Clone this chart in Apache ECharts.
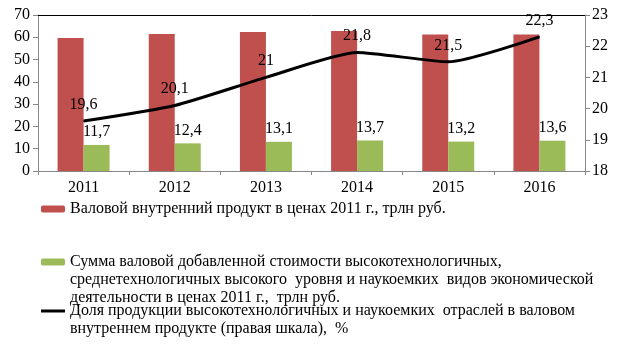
<!DOCTYPE html>
<html><head><meta charset="utf-8">
<script src="https://cdn.jsdelivr.net/npm/echarts@6/dist/echarts.min.js"></script>
<style>html,body{margin:0;padding:0;background:#fff}#c{width:624px;height:360px}</style>
</head><body><div id="c"></div>
<script>
const categories = ['2011','2012','2013','2014','2015','2016'];
const gdp = [59.7, 61.5, 62.4, 62.8, 61.2, 61.3];
const hightech = [11.7, 12.4, 13.1, 13.7, 13.2, 13.6];
const share = [19.6, 20.1, 21.0, 21.8, 21.5, 22.3];
const leftTicks = {min: 0, max: 70, interval: 10};
const rightTicks = {min: 18, max: 23, interval: 1};
const names = [
  'Валовой внутренний продукт в ценах 2011 г., трлн руб.',
  'Сумма валовой добавленной стоимости высокотехнологичных,\nсреднетехнологичных высокого  уровня и наукоемких  видов экономической\nдеятельности в ценах 2011 г.,  трлн руб.',
  'Доля продукции высокотехнологичных и наукоемких  отраслей в валовом\nвнутреннем продукте (правая шкала),  %'
];
const font = '"Liberation Serif", "Times New Roman", serif';
const FS = 16;
const fmt = p => String(p.value).replace('.', ',');
const LH = 18;
function legend(i, top, lines, extra) {
  return Object.assign({
    data: [names[i]], left: 41, top: top, orient: 'vertical', padding: 0,
    itemWidth: 24, itemHeight: 7, selectedMode: false,
    formatter: n => '\n'.repeat(lines - 1) + n,
    textStyle: {fontFamily: font, fontSize: FS, color: '#000', lineHeight: LH}
  }, extra || {});
}
const chart = echarts.init(document.getElementById('c'), null, {renderer: 'canvas'});
chart.setOption({
  animation: false,
  textStyle: {fontFamily: font},
  grid: {left: 38, right: 39, top: 15, bottom: 189},
  legend: [legend(0, 200, 1), legend(1, 217, 3),
    legend(2, 284, 2, {icon: 'rect', itemHeight: 3})],
  xAxis: [{
    type: 'category', data: categories,
    axisLine: {lineStyle: {color: '#888', width: 1}},
    axisTick: {show: true, alignWithLabel: false, length: 4, lineStyle: {color: '#888'}},
    axisLabel: {color: '#000', fontSize: FS, fontFamily: font, margin: 9}
  }, {
    type: 'category', data: categories, position: 'top',
    axisLine: {lineStyle: {color: '#000', width: 1}},
    axisTick: {show: false}, axisLabel: {show: false}
  }],
  yAxis: [{
    type: 'value', min: leftTicks.min, max: leftTicks.max, interval: leftTicks.interval,
    axisLine: {show: true, lineStyle: {color: '#888'}},
    axisTick: {show: true, length: 5, lineStyle: {color: '#888'}},
    splitLine: {show: false},
    axisLabel: {color: '#000', fontSize: FS, fontFamily: font, margin: 8}
  }, {
    type: 'value', min: rightTicks.min, max: rightTicks.max, interval: rightTicks.interval,
    position: 'right',
    axisLine: {show: true, lineStyle: {color: '#888'}},
    axisTick: {show: true, length: 5, lineStyle: {color: '#888'}},
    splitLine: {show: false},
    axisLabel: {color: '#000', fontSize: FS, fontFamily: font, margin: 7}
  }],
  series: [{
    name: names[0], type: 'bar', data: gdp, barWidth: 26, barGap: '0%',
    itemStyle: {color: '#C0504D'}
  }, {
    name: names[1], type: 'bar', data: hightech, barWidth: 26, barGap: '0%',
    itemStyle: {color: '#9BBB59'},
    label: {show: true, position: 'top', distance: 5, formatter: fmt,
      color: '#000', fontSize: FS, fontFamily: font}
  }, {
    name: names[2], type: 'line', yAxisIndex: 1, data: share,
    symbol: 'circle', symbolSize: 1, showSymbol: true, smooth: 0.2,
    lineStyle: {color: '#000', width: 3}, itemStyle: {color: '#000'},
    label: {show: true, position: 'top', distance: 8, formatter: fmt,
      color: '#000', fontSize: FS, fontFamily: font}
  }]
});
</script></body></html>
